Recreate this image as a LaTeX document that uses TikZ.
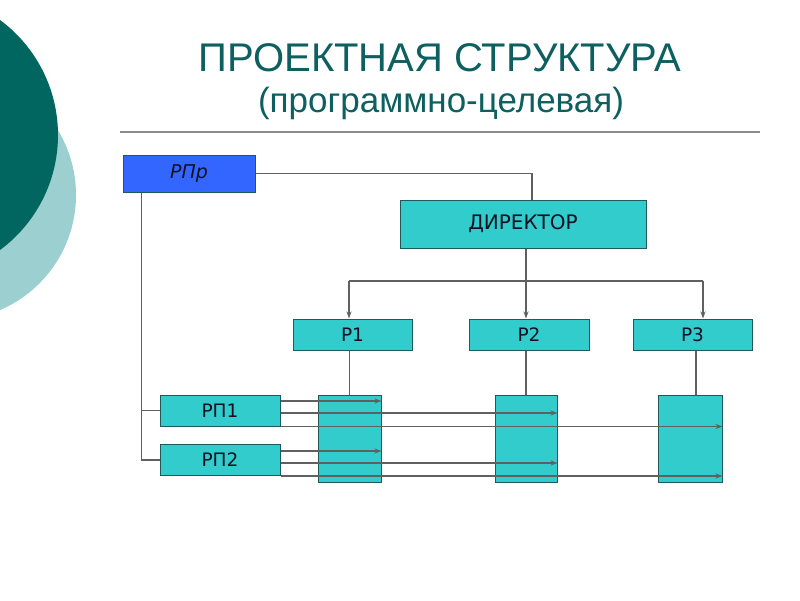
\documentclass[tikz,border=0pt]{standalone}
\usepackage{fontspec}
\setmainfont{Liberation Sans}
\newfontfamily\dv{DejaVu Sans}
\usetikzlibrary{arrows.meta}
\definecolor{darkteal}{HTML}{00665F}
\definecolor{lightteal}{HTML}{9CCFCF}
\definecolor{titlec}{HTML}{0E5F5F}
\definecolor{boxfill}{HTML}{33CCCC}
\definecolor{boxline}{HTML}{1E5A5A}
\definecolor{rpblue}{HTML}{3366FF}
\definecolor{linec}{HTML}{606060}
\definecolor{rulec}{HTML}{8C8C8C}
\definecolor{txt}{HTML}{111122}
\begin{document}
\begin{tikzpicture}[x=1pt,y=-1pt,
 box/.style={draw=boxline,fill=boxfill,line width=1pt,inner sep=0pt,text=txt,font=\dv\fontsize{18.5}{20}\selectfont},
 conn/.style={draw=linec,line width=1.3pt},
 arr/.style={conn,-{Stealth[length=7pt,width=5pt]}}]
\useasboundingbox (0,0) rectangle (800,600);
\fill[white] (0,0) rectangle (800,600);
\fill[lightteal] (-49,195) circle (125pt);
\fill[darkteal] (-85,135) circle (143pt);
% title
\node[text=titlec,font=\fontsize{40}{44}\selectfont] (title) at (440,58) {ПРОЕКТНАЯ СТРУКТУРА};
\node[text=titlec,font=\fontsize{35}{38}\selectfont] (subtitle) at (441,103) {(программно-целевая)};
\draw[rulec,line width=1.8pt] (120,132) -- (760,132);
% boxes
\node[box,fill=rpblue,minimum width=132pt,minimum height=37pt,font=\dv\itshape\fontsize{19}{20}\selectfont] (rpr) at (189,173.5) {РПр};
\node[box,minimum width=246pt,minimum height=48pt,font=\dv\fontsize{20}{22}\selectfont] (dir) at (523,224) {ДИРЕКТОР};
\node[box,minimum width=119pt,minimum height=31pt] (p1) at (352.5,334.5) {Р1};
\node[box,minimum width=120pt,minimum height=31pt] (p2) at (529,334.5) {Р2};
\node[box,minimum width=119pt,minimum height=31pt] (p3) at (692.5,334.5) {Р3};
\node[box,minimum width=120pt,minimum height=31pt] (rp1) at (220,410.5) {РП1};
\node[box,minimum width=120pt,minimum height=31pt] (rp2) at (220,460) {РП2};
\node[box,minimum width=63pt,minimum height=87pt] (c1) at (349.5,438.5) {};
\node[box,minimum width=62pt,minimum height=87pt] (c2) at (526,438.5) {};
\node[box,minimum width=64pt,minimum height=87pt] (c3) at (690,438.5) {};
% connectors
\draw[conn] (rpr.east) -| ([xshift=9pt]dir.north);
\coordinate (b1) at (349,281);
\coordinate (b2) at (526,281);
\coordinate (b3) at (703,281);
\draw[conn] (b2 |- dir.south) -- (b2);
\draw[conn] (b1) -- (b3);
\draw[arr] (b1) -- (b1 |- p1.north);
\draw[arr] (b2) -- (b2 |- p2.north);
\draw[arr] (b3) -- (b3 |- p3.north);
\draw[conn] (c1.north |- p1.south) -- (c1.north);
\draw[conn] (b2 |- p2.south) -- (b2 |- c2.north);
\draw[conn] ([xshift=6pt]c3.north |- p3.south) -- ([xshift=6pt]c3.north);
\coordinate (lb) at ([xshift=19pt]rpr.south west);
\draw[conn] (lb) |- (rp2.west);
\draw[conn] (rp1.west) -- (rp1.west -| lb);
\draw[arr] ([yshift=9.5pt]rp1.east) -- ([yshift=9.5pt]rp1.east -| c1.east);
\draw[arr] ([yshift=-2.5pt]rp1.east) -- ([yshift=-2.5pt]rp1.east -| c2.east);
\draw[arr] (rp1.south east) -- (rp1.south east -| c3.east);
\draw[arr] ([yshift=9pt]rp2.east) -- ([yshift=9pt]rp2.east -| c1.east);
\draw[arr] ([yshift=-3pt]rp2.east) -- ([yshift=-3pt]rp2.east -| c2.east);
\draw[arr] (rp2.south east) -- (rp2.south east -| c3.east);
\end{tikzpicture}
\end{document}
